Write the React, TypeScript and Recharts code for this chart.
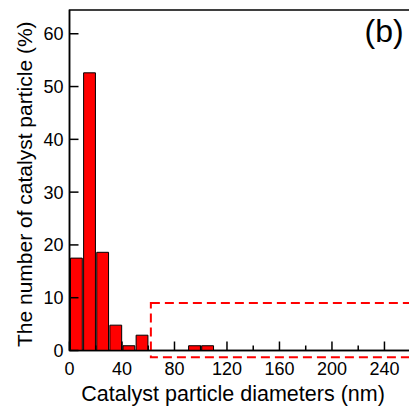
import { Bar, BarChart, Label, ReferenceArea, XAxis, YAxis } from "recharts";

// Histogram bins (lower edge, nm) and share of particles (%)
const binStarts = [0, 10, 20, 30, 40, 50, 90, 100];
const percents = [17.5, 52.6, 18.6, 4.8, 0.9, 2.9, 0.9, 0.9];

const xTicks = [0, 20, 40, 60, 80, 100, 120, 140, 160, 180, 200, 220, 240];
const yTicks = [0, 10, 20, 30, 40, 50, 60];

const BIN_WIDTH = 10;
const X_MAX = 260;
const Y_MAX = 64.5;

// highlighted region (dashed box)
const boxX = [62, 300];
const boxY = [-1.3, 9];

const data = binStarts.map((start, i) => ({
  mid: start + BIN_WIDTH / 2,
  pct: percents[i],
}));

const W = 409;
const H = 400;
const MARGIN = { top: 2, right: 6.3, bottom: 0, left: 0 };
const Y_AXIS_W = 61.5;
const X_AXIS_H = 57.5;
const PLOT_W = W - MARGIN.left - MARGIN.right - Y_AXIS_W;

const FONT = '"Liberation Sans", Arial, sans-serif';

function XTick({ x, y, payload }: any) {
  const major = payload.value % 40 === 0;
  return (
    <g>
      <line x1={x} x2={x} y1={y} y2={y - (major ? 9 : 5)} stroke="#000" strokeWidth={1.5} />
      {major && (
        <text x={x} y={y + 24} textAnchor="middle" fontSize={18} fill="#000" fontFamily={FONT}>
          {payload.value}
        </text>
      )}
    </g>
  );
}

function YTick({ x, y, payload }: any) {
  return (
    <g>
      <line x1={x} x2={x + 9} y1={y} y2={y} stroke="#000" strokeWidth={1.5} />
      <text x={x - 6} y={y + 6.5} textAnchor="end" fontSize={18} fill="#000" fontFamily={FONT}>
        {payload.value}
      </text>
    </g>
  );
}

function YTitle({ viewBox }: any) {
  const cx = 24;
  const cy = viewBox.y + viewBox.height / 2 + 4;
  return (
    <text
      x={cx}
      y={cy}
      transform={`rotate(-90 ${cx} ${cy})`}
      textAnchor="middle"
      fontSize={21}
      fill="#000"
      fontFamily={FONT}
    >
      The number of catalyst particle (%)
    </text>
  );
}

function XTitle({ viewBox }: any) {
  const cx = viewBox.x + viewBox.width / 2 - 7;
  return (
    <text x={cx} y={392.7} textAnchor="middle" fontSize={21.5} fill="#000" fontFamily={FONT}>
      Catalyst particle diameters (nm)
    </text>
  );
}

export default function App() {
  return (
    <div style={{ width: W, height: H, fontFamily: FONT }}>
      <BarChart width={W} height={H} data={data} margin={MARGIN} barGap={0} barCategoryGap={0}>
        <XAxis
          dataKey="mid"
          type="number"
          domain={[0, X_MAX]}
          ticks={xTicks}
          interval={0}
          height={X_AXIS_H}
          tickSize={0}
          tickMargin={0}
          tickLine={false}
          axisLine={{ stroke: "#000", strokeWidth: 1.5 }}
          tick={<XTick />}
          allowDataOverflow
        >
          <Label content={<XTitle />} />
        </XAxis>
        <YAxis
          type="number"
          domain={[0, Y_MAX]}
          ticks={yTicks}
          interval={0}
          width={Y_AXIS_W}
          tickSize={0}
          tickMargin={0}
          tickLine={false}
          axisLine={{ stroke: "#000", strokeWidth: 1.5 }}
          tick={<YTick />}
          allowDataOverflow
        >
          <Label content={<YTitle />} />
        </YAxis>
        <Bar
          dataKey="pct"
          fill="#ff0000"
          stroke="#000"
          strokeWidth={1}
          barSize={(PLOT_W * BIN_WIDTH) / X_MAX}
          isAnimationActive={false}
        />
        <ReferenceArea
          x1={0}
          x2={X_MAX}
          y1={0}
          y2={Y_MAX}
          fill="none"
          stroke="#000"
          strokeWidth={1.5}
          ifOverflow="visible"
        >
          <Label
            value="(b)"
            position="insideTopRight"
            offset={7}
            dy={2}
            fontSize={32}
            fill="#000"
            fontFamily={FONT}
          />
        </ReferenceArea>
        <ReferenceArea
          x1={boxX[0]}
          x2={boxX[1]}
          y1={boxY[0]}
          y2={boxY[1]}
          fill="none"
          fillOpacity={0}
          stroke="#ff0000"
          strokeWidth={2}
          strokeDasharray="9 5"
          ifOverflow="visible"
        />
      </BarChart>
    </div>
  );
}
